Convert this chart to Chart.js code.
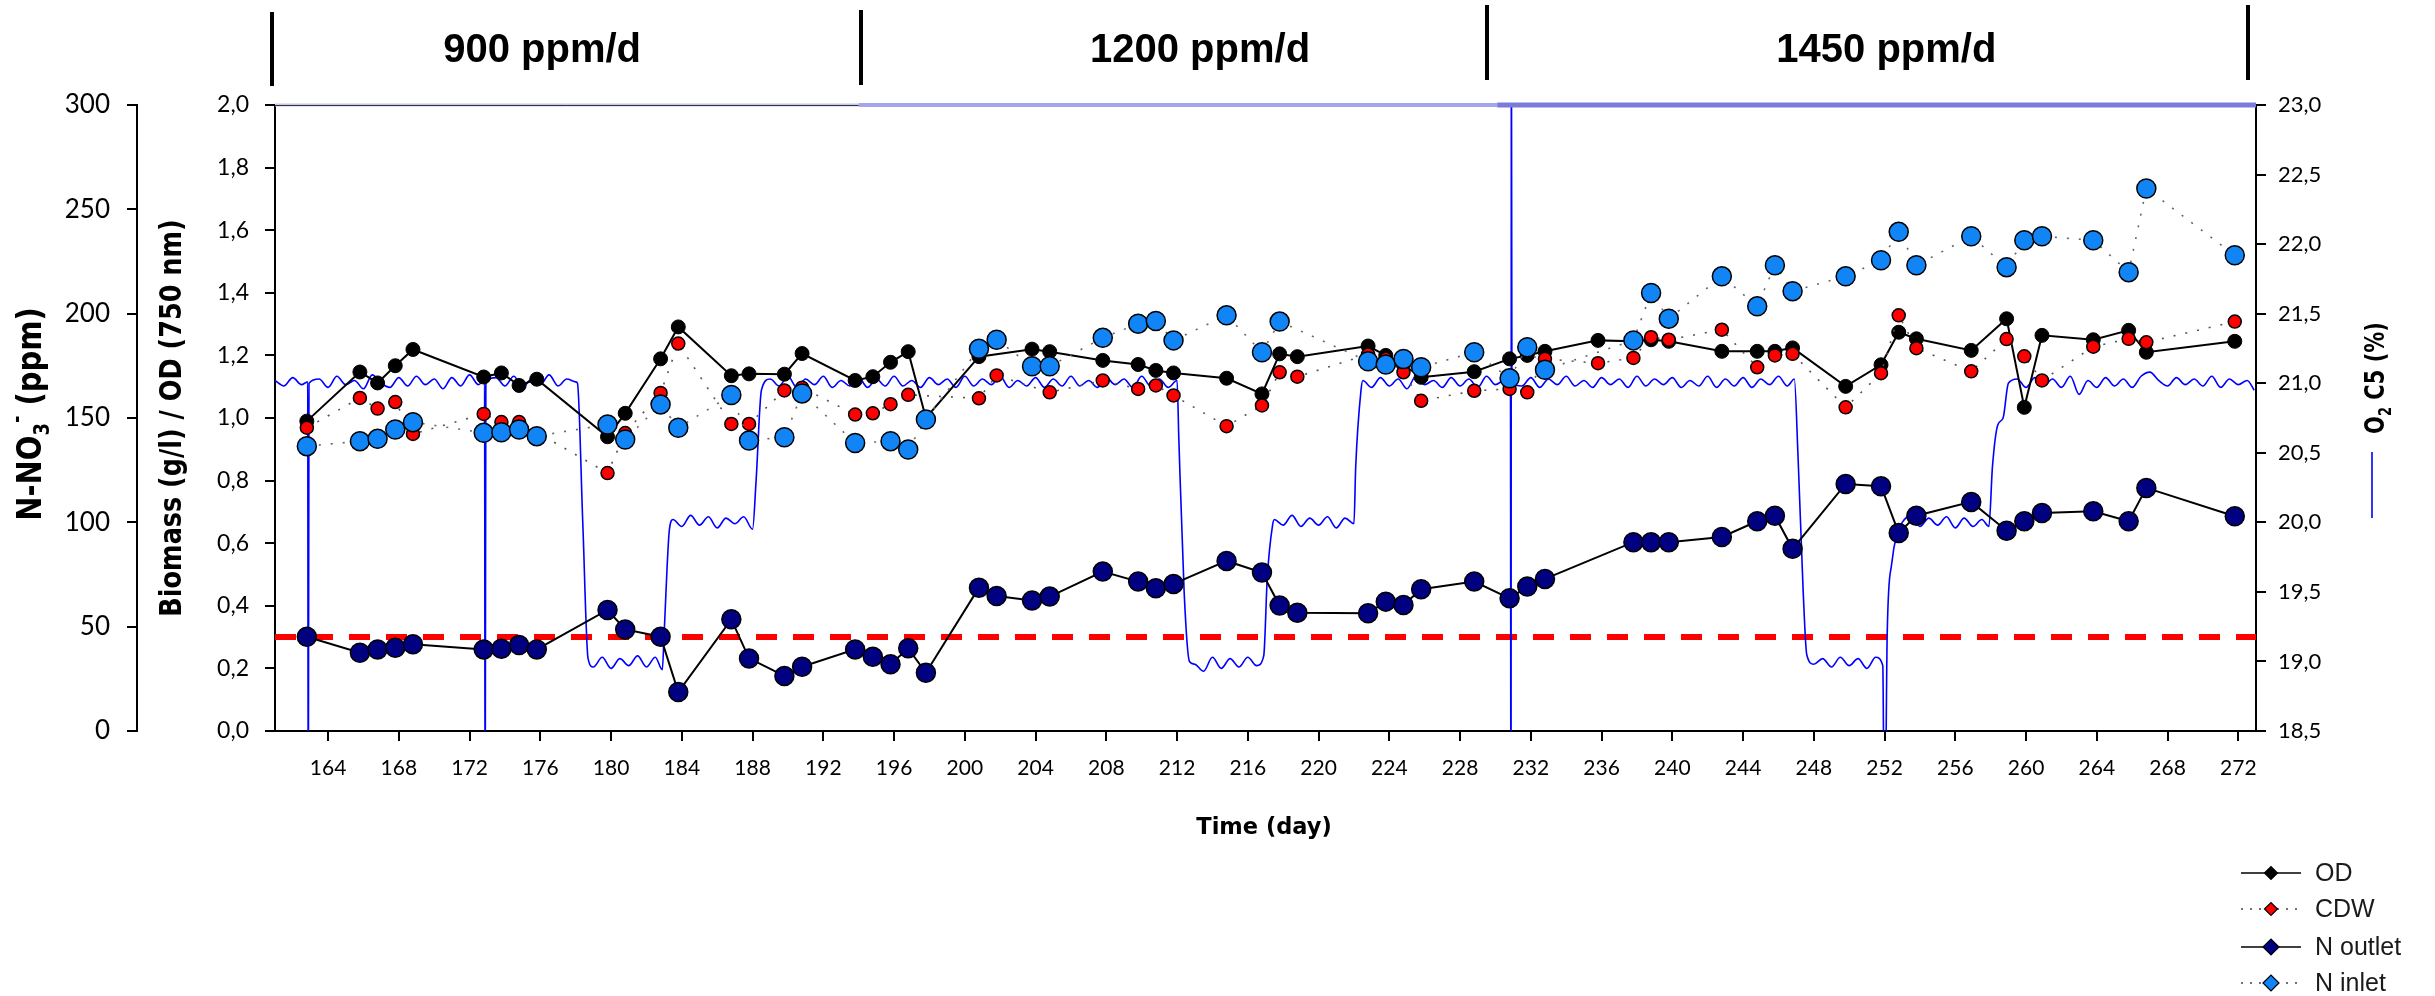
<!DOCTYPE html>
<html><head><meta charset="utf-8">
<script src="https://cdn.jsdelivr.net/npm/chart.js@4.4.1/dist/chart.umd.min.js"></script>
<style>html,body{margin:0;padding:0;background:#fff;overflow:hidden}#wrap{width:2435px;height:996px;position:relative}</style>
</head><body><div id="wrap"><canvas id="c" width="2435" height="996"></canvas></div>
<script>
// ---------------- DATA ----------------
const xMin = 161, xMax = 273;
const xTicks = [164,168,172,176,180,184,188,192,196,200,204,208,212,216,220,224,228,232,236,240,244,248,252,256,260,264,268,272];

const odDays = [162.8,165.8,166.8,167.8,168.8,172.8,173.8,174.8,175.8,179.8,180.8,182.8,183.8,186.8,187.8,189.8,190.8,193.8,194.8,195.8,196.8,197.8,200.8,203.8,204.8,207.8,209.8,210.8,211.8,214.8,216.8,217.8,218.8,222.8,223.8,224.8,225.8,228.8,230.8,231.8,232.8,235.8,237.8,238.8,239.8,242.8,244.8,245.8,246.8,249.8,251.8,252.8,253.8,256.9,258.9,259.9,260.9,263.8,265.8,266.8,271.8];
const odValues = [0.99,1.147,1.112,1.167,1.219,1.131,1.144,1.104,1.124,0.94,1.015,1.189,1.291,1.135,1.141,1.14,1.206,1.12,1.132,1.178,1.212,1.0,1.196,1.22,1.212,1.184,1.171,1.152,1.144,1.127,1.077,1.205,1.196,1.23,1.2,1.17,1.13,1.148,1.189,1.2,1.213,1.248,1.245,1.25,1.245,1.213,1.213,1.213,1.224,1.101,1.17,1.274,1.253,1.216,1.317,1.034,1.264,1.25,1.28,1.21,1.245];

const cdwDays = [162.8,165.8,166.8,167.8,168.8,172.8,173.8,174.8,179.8,180.8,182.8,183.8,186.8,187.8,189.8,190.8,193.8,194.8,195.8,196.8,200.8,201.8,204.8,207.8,209.8,210.8,211.8,214.8,216.8,217.8,218.8,222.8,223.8,224.8,225.8,228.8,230.8,231.8,232.8,235.8,237.8,238.8,239.8,242.8,244.8,245.8,246.8,249.8,251.8,252.8,253.8,256.9,258.9,259.9,260.9,263.8,265.8,266.8,271.8];
const cdwValues = [0.969,1.064,1.03,1.051,0.949,1.013,0.987,0.987,0.824,0.952,1.08,1.238,0.981,0.981,1.088,1.097,1.011,1.015,1.044,1.074,1.063,1.136,1.082,1.12,1.093,1.104,1.072,0.974,1.04,1.146,1.132,1.203,1.189,1.146,1.055,1.087,1.093,1.082,1.189,1.175,1.192,1.258,1.25,1.282,1.162,1.2,1.205,1.034,1.143,1.328,1.223,1.149,1.252,1.197,1.12,1.228,1.253,1.242,1.308];

const nInletDays = [162.8,165.8,166.8,167.8,168.8,172.8,173.8,174.8,175.8,179.8,180.8,182.8,183.8,186.8,187.8,189.8,190.8,193.8,195.8,196.8,197.8,200.8,201.8,203.8,204.8,207.8,209.8,210.8,211.8,214.8,216.8,217.8,222.8,223.8,224.8,225.8,228.8,230.8,231.8,232.8,237.8,238.8,239.8,242.8,244.8,245.8,246.8,249.8,251.8,252.8,253.8,256.9,258.9,259.9,260.9,263.8,265.8,266.8,271.8];
const nInletValues = [136.5,138.9,140,144.5,148,142.9,143.2,144.5,141.3,146.9,139.7,156.5,145.3,161,139.2,140.8,161.8,138,138.9,134.9,149.3,183.2,187.5,174.8,174.8,188.4,195.2,196.5,187.2,199.2,181.5,196.2,177.2,175.6,178.3,174.3,181.5,169,183.9,173.1,187.2,209.9,197.6,217.9,203.5,223.2,210.8,217.9,225.6,239.2,223.2,237.1,222.3,235.2,237.1,235.2,219.9,260,228];

const nOutletDays = [162.8,165.8,166.8,167.8,168.8,172.8,173.8,174.8,175.8,179.8,180.8,182.8,183.8,186.8,187.8,189.8,190.8,193.8,194.8,195.8,196.8,197.8,200.8,201.8,203.8,204.8,207.8,209.8,210.8,211.8,214.8,216.8,217.8,218.8,222.8,223.8,224.8,225.8,228.8,230.8,231.8,232.8,237.8,238.8,239.8,242.8,244.8,245.8,246.8,249.8,251.8,252.8,253.8,256.9,258.9,259.9,260.9,263.8,265.8,266.8,271.8];
const nOutletValues = [45.2,37.5,39.1,39.9,41.6,39.1,39.4,41.2,39.1,58.0,48.7,45.2,18.7,53.5,34.8,26.4,30.8,39.1,35.6,32.0,39.6,27.9,68.7,64.7,62.5,64.4,76.4,71.6,68.4,70.5,81.5,75.9,60.1,56.7,56.4,62.0,60.4,67.9,71.6,63.6,69.2,72.9,90.5,90.5,90.5,93.0,100.5,103.2,87.3,118.4,117.3,94.9,103.2,109.8,96.0,100.5,104.5,105.3,100.5,116.5,102.9];

const limitDays = [161, 273];
const limitValues = [45, 45];

const o2Days = [161.0,161.5,162.0,162.5,162.85,162.88,162.92,163.5,164,164.5,165,165.5,166,166.5,167,167.5,168,168.5,169,169.5,170,170.5,171,171.5,172,172.5,172.85,172.88,172.92,173.5,174,174.5,175,175.5,176,176.5,177,177.5,178.0,178.1,178.4,178.7,179,179.5,180,180.5,181,181.5,182,182.5,182.9,183.0,183.3,183.5,184,184.5,185,185.5,186,186.5,187,187.5,188.0,188.2,188.5,189,189.5,190,190.5,191,191.5,192,192.5,193,193.5,194,194.5,195,195.5,196,196.5,197,197.5,198,198.5,199,199.5,200,200.5,201,201.5,202,202.5,203,203.5,204,204.5,205,205.5,206,206.5,207,207.5,208,208.5,209,209.5,210,210.5,211,211.5,212,212.1,212.4,212.7,213,213.5,214,214.5,215,215.5,216,216.5,216.9,217.1,217.4,217.5,218,218.5,219,219.5,220,220.5,221,221.5,222.0,222.1,222.4,222.5,223,223.5,224,224.5,225,225.5,226,226.5,227,227.5,228,228.5,229,229.5,230,230.5,230.85,230.88,230.9,230.93,231.5,232,232.5,233,233.5,234,234.5,235,235.5,236,236.5,237,237.5,238,238.5,239,239.5,240,240.5,241,241.5,242,242.5,243,243.5,244,244.5,245,245.5,246,246.5,246.9,247.1,247.4,247.6,248,248.5,249,249.5,250,250.5,251,251.5,251.9,252.0,252.15,252.4,252.7,253,253.5,254,254.5,255,255.5,256,256.5,257,257.5,257.9,258.1,258.4,258.7,259.0,259.5,260,260.5,261,261.5,262,262.5,263,263.5,264,264.5,265,265.5,266,266.5,267,267.5,268,268.5,269,269.5,270,270.5,271,271.5,272,272.5,272.9];
const o2Values = [21.02,20.98,21.04,20.99,21.01,17.5,21.0,21.03,20.97,21.05,20.99,21.02,20.96,21.06,21.0,20.97,21.04,20.98,21.05,20.99,21.03,20.96,21.04,20.98,21.06,20.99,21.02,17.5,21.0,21.04,20.98,21.05,20.97,21.03,20.99,21.06,20.98,21.03,21.01,21.0,20.0,19.02,18.96,19.03,18.95,19.02,18.97,19.04,18.96,19.03,18.94,19.2,19.95,20.02,19.97,20.05,19.98,20.04,19.96,20.03,19.99,20.04,19.95,20.3,20.95,21.03,20.98,21.05,20.97,21.03,20.99,21.05,20.97,21.02,20.98,21.04,20.97,21.03,20.98,21.05,20.98,21.02,20.97,21.04,20.99,21.03,20.97,21.05,20.98,21.03,20.99,21.05,20.97,21.02,20.98,21.04,20.97,21.03,20.98,21.05,20.98,21.02,20.97,21.04,20.99,21.03,20.97,21.05,20.98,21.03,20.97,21.02,20.6,19.5,19.0,18.98,18.93,19.03,18.95,19.02,18.96,19.03,18.97,19.04,19.6,19.98,20.02,19.98,20.05,19.97,20.03,19.98,20.04,19.96,20.03,19.99,20.4,20.95,21.02,20.97,21.04,20.98,21.03,20.96,21.05,20.99,21.02,20.97,21.04,20.98,21.03,20.97,21.05,20.99,21.02,21.0,17.0,24.0,21.0,20.98,21.04,20.97,21.03,20.99,21.05,20.98,21.02,20.97,21.04,20.99,21.03,20.97,21.05,20.98,21.03,20.99,21.04,20.97,21.02,20.98,21.05,20.97,21.03,20.98,21.04,20.97,21.03,20.99,21.05,20.98,21.03,20.5,19.5,19.05,18.98,19.02,18.96,19.03,18.97,19.02,18.95,19.03,18.97,17.5,19.2,19.7,19.92,20.0,20.05,19.97,20.03,19.98,20.04,19.96,20.03,19.97,20.02,19.97,20.4,20.7,20.75,21.0,21.03,20.97,21.04,20.98,21.03,20.97,21.05,20.92,21.02,20.97,21.04,20.98,21.03,20.97,21.05,21.08,21.02,20.98,21.04,20.99,21.03,20.98,21.05,20.97,21.03,20.99,21.02,20.95];

const phaseBounds = [160.83, 194.13, 229.52, 272.55];
const phaseLabels = ['900 ppm/d', '1200 ppm/d', '1450 ppm/d'];
const phaseLabelDays = [176.1, 213.3, 252.1];
const topEdgeDays = [161, 194.0, 230.1, 273];

// ---------------- HELPERS ----------------
const pts = (xs, ys) => xs.map((d, i) => ({x: d, y: ys[i]}));
const comma = v => Number(v).toFixed(1).replace('.', ',');

function richWidth(ctx, parts) {
  let w = 0;
  parts.forEach(p => { ctx.font = p.font; w += ctx.measureText(p.t).width; });
  return w;
}
function drawVertical(ctx, parts, baseX, centerY, stretch) {
  ctx.save();
  ctx.translate(baseX, centerY);
  ctx.rotate(-Math.PI / 2);
  ctx.scale(1, stretch);
  const w = richWidth(ctx, parts);
  let x = -w / 2;
  ctx.textBaseline = 'alphabetic';
  ctx.textAlign = 'left';
  ctx.fillStyle = '#000';
  parts.forEach(p => {
    ctx.font = p.font;
    ctx.fillText(p.t, x, p.dy || 0);
    x += ctx.measureText(p.t).width;
  });
  ctx.restore();
}

const decor = {
  id: 'decor',
  afterDatasetsDraw(chart) {
    const {ctx, chartArea: a, scales: {x}} = chart;
    ctx.save();
    const st = [{c: '#c6c6ee', w: 3}, {c: '#a5a5ea', w: 4}, {c: '#7b7bdb', w: 5}];
    for (let i = 0; i < 3; i++) {
      ctx.strokeStyle = st[i].c; ctx.lineWidth = st[i].w;
      ctx.beginPath();
      ctx.moveTo(x.getPixelForValue(topEdgeDays[i]), a.top);
      ctx.lineTo(x.getPixelForValue(topEdgeDays[i + 1]), a.top);
      ctx.stroke();
    }
    ctx.strokeStyle = '#333'; ctx.lineWidth = 1;
    ctx.beginPath();
    ctx.moveTo(x.getPixelForValue(topEdgeDays[0]), a.top + 0.5);
    ctx.lineTo(x.getPixelForValue(topEdgeDays[1]), a.top + 0.5);
    ctx.stroke();
    ctx.restore();
  },
  afterDraw(chart) {
    const {ctx, chartArea: a, scales: {x}} = chart;
    ctx.save();
    // phase banner
    ctx.strokeStyle = '#000'; ctx.lineWidth = 4;
    const barTop = [12, 10, 5, 5], barBot = [86, 85, 80, 80];
    phaseBounds.forEach((d, i) => {
      const px = Math.round(x.getPixelForValue(d));
      ctx.beginPath(); ctx.moveTo(px, barTop[i]); ctx.lineTo(px, barBot[i]); ctx.stroke();
    });
    ctx.fillStyle = '#000';
    ctx.font = 'bold 40px "Liberation Sans", Arial, sans-serif';
    ctx.textAlign = 'center'; ctx.textBaseline = 'alphabetic';
    phaseLabels.forEach((t, i) => ctx.fillText(t, x.getPixelForValue(phaseLabelDays[i]), 62));

    // axis titles
    const bf = s => 'bold ' + s + 'px "DejaVu Sans", Verdana, sans-serif';
    drawVertical(ctx, [
      {t: 'N-NO', font: bf(29)},
      {t: '3', font: bf(18), dy: 7},
      {t: '-', font: bf(18), dy: -14},
      {t: ' (ppm)', font: bf(29)}
    ], 40.5, 414, 1.18);
    drawVertical(ctx, [{t: 'Biomass (g/l) / OD (750 nm)', font: bf(25.5)}], 181, 418, 1.2);
    drawVertical(ctx, [
      {t: 'O', font: bf(21)},
      {t: '2', font: bf(13), dy: 5},
      {t: ' C5 (%)', font: bf(21)}
    ], 2384, 378, 1.3);
    // O2 legend line
    ctx.strokeStyle = '#0000ff'; ctx.lineWidth = 1.6;
    ctx.beginPath(); ctx.moveTo(2372, 452); ctx.lineTo(2372, 518); ctx.stroke();

    ctx.font = bf(22.5);
    ctx.textAlign = 'center'; ctx.textBaseline = 'middle';
    ctx.fillText('Time (day)', 1264, 828);

    // bottom-right legend
    const rows = [873, 909, 947, 983];
    const ds = chart.data.datasets.filter(d => d.inLegend);
    ds.forEach((d, i) => {
      const y = rows[i];
      ctx.save();
      ctx.strokeStyle = d.legendLine; ctx.lineWidth = 1.6;
      ctx.setLineDash(d.borderDash && d.borderDash.length ? [2, 7] : []);
      ctx.beginPath(); ctx.moveTo(2241, y); ctx.lineTo(2301, y); ctx.stroke();
      ctx.setLineDash([]);
      ctx.fillStyle = d.backgroundColor; ctx.strokeStyle = '#000'; ctx.lineWidth = 1.2;
      Chart.helpers.drawPoint(ctx, {pointStyle: 'rectRot', radius: d.legendR, borderWidth: 1.2}, 2271, y);
      ctx.restore();
      ctx.fillStyle = '#1a1a1a';
      ctx.font = '25px "Liberation Sans", Arial, sans-serif';
      ctx.textAlign = 'left'; ctx.textBaseline = 'middle';
      ctx.fillText(d.label, 2315, y + 1);
    });
    ctx.restore();
  }
};

const tickFont = s => ({family: 'Lato, "Open Sans", sans-serif', size: s});
const axisCommon = {
  border: {display: true, color: '#000', width: 2},
  grid: {drawOnChartArea: false, drawTicks: true, tickLength: 10, color: '#000', lineWidth: 2}
};

new Chart(document.getElementById('c'), {
  type: 'scatter',
  data: {
    datasets: [
      {label: 'limit', data: pts(limitDays, limitValues), yAxisID: 'yN', showLine: true,
       borderColor: '#ff0000', borderWidth: 6, borderDash: [21, 16], pointRadius: 0, order: 10},
      {label: 'O2 C5', data: pts(o2Days, o2Values), yAxisID: 'yO2', showLine: true,
       borderColor: '#0000ff', borderWidth: 1.6, pointRadius: 0, cubicInterpolationMode: 'monotone', order: 9},
      {label: 'OD', inLegend: true, legendLine: '#000', legendR: 6.5, data: pts(odDays, odValues), yAxisID: 'yB', showLine: true,
       borderColor: '#000', borderWidth: 2, backgroundColor: '#000', pointBorderColor: '#000',
       pointBackgroundColor: '#000', pointRadius: 7, pointBorderWidth: 1, order: 4},
      {label: 'CDW', inLegend: true, legendLine: '#444', legendR: 6.5, data: pts(cdwDays, cdwValues), yAxisID: 'yB', showLine: true,
       borderColor: '#555', borderWidth: 1.6, borderDash: [2, 10], backgroundColor: '#ff0000', pointBorderColor: '#000',
       pointBackgroundColor: '#ff0000', pointRadius: 6.5, pointBorderWidth: 1.5, order: 3},
      {label: 'N outlet', inLegend: true, legendLine: '#000', legendR: 8, data: pts(nOutletDays, nOutletValues), yAxisID: 'yN', showLine: true,
       borderColor: '#000', borderWidth: 2, backgroundColor: '#000080', pointBorderColor: '#000',
       pointBackgroundColor: '#000080', pointRadius: 9.5, pointBorderWidth: 1.5, order: 1},
      {label: 'N inlet', inLegend: true, legendLine: '#444', legendR: 8, data: pts(nInletDays, nInletValues), yAxisID: 'yN', showLine: true,
       borderColor: '#666', borderWidth: 1.6, borderDash: [2, 10], backgroundColor: '#1185f5', pointBorderColor: '#000',
       pointBackgroundColor: '#1185f5', pointRadius: 9.5, pointBorderWidth: 1.5, order: 2}
    ]
  },
  options: {
    responsive: false, animation: false, devicePixelRatio: 1,
    layout: {padding: {top: 105, right: 0, bottom: 205, left: 0}},
    plugins: {legend: {display: false}, tooltip: {enabled: false}},
    scales: {
      x: Object.assign({}, axisCommon, {
        type: 'linear', position: 'bottom', min: xMin, max: xMax,
        afterBuildTicks: s => { s.ticks = xTicks.map(v => ({value: v})); },
        afterFit: s => { s.height = 60; },
        ticks: {font: tickFont(21), color: '#000', padding: 15, maxRotation: 0, autoSkip: false}
      }),
      yN: Object.assign({}, axisCommon, {
        type: 'linear', position: 'left', weight: 1, min: 0, max: 300,
        afterFit: s => { s.width = 137; },
        ticks: {stepSize: 50, font: tickFont(26), color: '#000', padding: 17}
      }),
      yB: Object.assign({}, axisCommon, {
        type: 'linear', position: 'left', weight: 0, min: 0, max: 2,
        afterFit: s => { s.width = 138; },
        ticks: {stepSize: 0.2, font: tickFont(23), color: '#000', padding: 16, callback: comma}
      }),
      yO2: Object.assign({}, axisCommon, {
        type: 'linear', position: 'right', min: 18.5, max: 23,
        afterFit: s => { s.width = 179; },
        ticks: {stepSize: 0.5, font: tickFont(22), color: '#000', padding: 12, callback: comma}
      })
    }
  },
  plugins: [decor]
});
</script></body></html>
